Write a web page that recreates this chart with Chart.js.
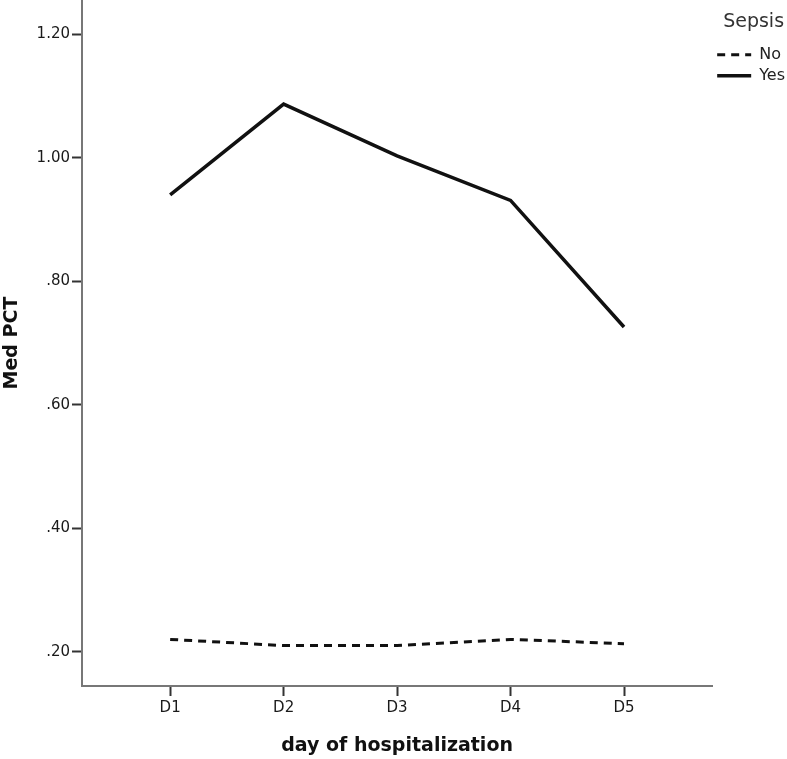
<!DOCTYPE html>
<html>
<head>
<meta charset="utf-8">
<script src="https://cdn.jsdelivr.net/npm/chart.js@4/dist/chart.umd.min.js"></script>
<style>
    body { margin: 0; background: #fff; }
    #wrap { width: 787px; height: 759px; }
</style>
</head>
<body>
<div id="wrap"><canvas id="pctChart"></canvas></div>
<script>
// values
var days = ["D1", "D2", "D3", "D4", "D5"];
var sepsisNo = [0.220, 0.210, 0.210, 0.220, 0.213];
var sepsisYes = [0.940, 1.087, 1.003, 0.931, 0.726];
var yTicks = [0.20, 0.40, 0.60, 0.80, 1.00, 1.20];

Chart.defaults.font.family = "'DejaVu Sans', sans-serif";
Chart.defaults.color = "#1a1a1a";

function toPoints(vals) {
    return vals.map((v, i) => ({ x: i + 1, y: v }));
}

// y labels like SPSS: ".20", "1.00"
function fmtY(v) {
    let s = v.toFixed(2);
    return s.startsWith("0") ? s.substring(1) : s;
}

new Chart(document.getElementById("pctChart"), {
    type: "line",
    data: {
        datasets: [
            {
                label: "No",
                data: toPoints(sepsisNo),
                borderColor: "#111",
                borderWidth: 3,
                borderDash: [8, 6],
                pointRadius: 0,
                tension: 0
            },
            {
                label: "Yes",
                data: toPoints(sepsisYes),
                borderColor: "#111",
                borderWidth: 3.5,
                borderJoinStyle: "miter",
                pointRadius: 0,
                tension: 0
            }
        ]
    },
    options: {
        responsive: true,
        maintainAspectRatio: false,
        animation: false,
        layout: { padding: { top: 0, left: 0, bottom: 0, right: -8 } },
        scales: {
            x: {
                type: "linear",
                min: 0.223,
                max: 5.777,
                afterBuildTicks: scale => { scale.ticks = days.map((d, i) => ({ value: i + 1 })); },
                afterFit: scale => { scale.height = 73; scale.paddingLeft = 0; scale.paddingRight = 0; },
                ticks: {
                    font: { size: 15 },
                    padding: 3,
                    maxRotation: 0,
                    callback: (v, i) => days[i]
                },
                grid: { drawOnChartArea: false, drawTicks: true, tickLength: 10, tickWidth: 2, tickColor: "#333" },
                border: { display: true, color: "#777", width: 2 },
                title: {
                    display: true,
                    text: "day of hospitalization",
                    font: { size: 19, weight: "bold" },
                    color: "#111",
                    padding: { top: 0, bottom: 2 }
                }
            },
            y: {
                min: 0.1445,
                max: 1.2556,
                afterBuildTicks: scale => { scale.ticks = yTicks.map(v => ({ value: v })); },
                afterFit: scale => { scale.width = 82; scale.paddingTop = 0; scale.paddingBottom = 0; },
                ticks: {
                    font: { size: 15 },
                    padding: 2,
                    callback: v => fmtY(v)
                },
                grid: { drawOnChartArea: false, drawTicks: true, tickLength: 10, tickWidth: 2, tickColor: "#333" },
                border: { display: true, color: "#777", width: 2 },
                title: {
                    display: true,
                    text: "Med PCT",
                    font: { size: 19, weight: "bold" },
                    color: "#111",
                    padding: { top: 1, bottom: 0 }
                }
            }
        },
        plugins: {
            legend: {
                position: "right",
                align: "start",
                title: {
                    display: true,
                    text: "Sepsis",
                    color: "#333",
                    font: { size: 19 },
                    padding: { top: 13, bottom: 6 }
                },
                labels: {
                    usePointStyle: true,
                    pointStyleWidth: 34,
                    boxHeight: 16,
                    padding: 5,
                    color: "#222",
                    font: { size: 16 },
                    // legend sample uses the dataset's own dash
                    generateLabels: chart => chart.data.datasets.map((ds, i) => ({
                        text: ds.label,
                        datasetIndex: i,
                        pointStyle: "line",
                        strokeStyle: ds.borderColor,
                        fillStyle: ds.borderColor,
                        lineWidth: ds.borderWidth,
                        lineDash: ds.borderDash || [],
                        fontColor: "#222"
                    }))
                }
            },
            tooltip: { enabled: false }
        }
    }
});
</script>
</body>
</html>
